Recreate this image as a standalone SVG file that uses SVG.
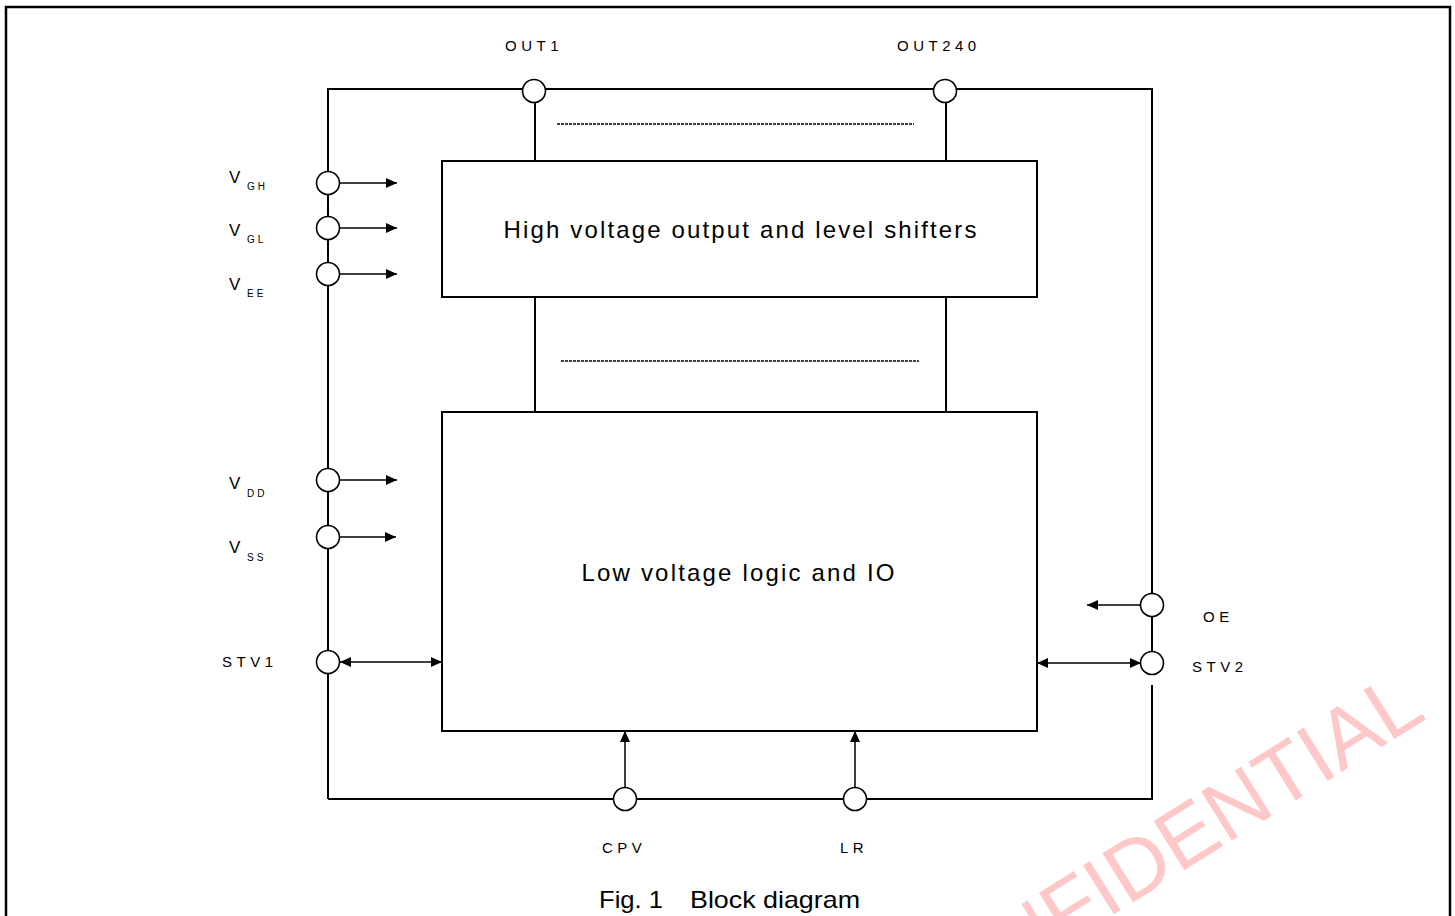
<svg xmlns="http://www.w3.org/2000/svg" width="1455" height="916" viewBox="0 0 1455 916">
<style>
.ln{stroke:#000;stroke-width:2;fill:none}
.thin{stroke:#000;stroke-width:1.5;fill:none}
.pin{fill:#fff;stroke:#000;stroke-width:1.6}
.box{fill:#fff;stroke:#000;stroke-width:2}
.lbl{font-family:"Liberation Sans",Arial,sans-serif;font-size:15px;letter-spacing:4.5px;fill:#000}
.v{font-family:"Liberation Sans",Arial,sans-serif;font-size:17px;fill:#000}
.sub{font-family:"Liberation Sans",Arial,sans-serif;font-size:10px;letter-spacing:3px;fill:#000}
.big{font-family:"Liberation Sans",Arial,sans-serif;font-size:24px;fill:#000}
.dash{stroke:#000;stroke-width:1.3;stroke-dasharray:3,1;fill:none}
</style>
<defs>
<marker id="ah" markerUnits="userSpaceOnUse" markerWidth="12" markerHeight="12" refX="11" refY="6" orient="auto-start-reverse" viewBox="0 0 12 12">
<path d="M0,1 L11,6 L0,11 Z" fill="#000"/>
</marker>
</defs>
<rect width="1455" height="916" fill="#fff"/>
<g id="watermark">
<text x="1428" y="718" transform="rotate(-32 1428 718)" text-anchor="end" font-family="'Liberation Sans',Arial,sans-serif" font-size="84" fill="#ffc8c8">CONFIDENTIAL</text>
</g>
<g id="frame">
<path d="M6,916 V7 H1450 V916" stroke="#000" stroke-width="2.5" fill="none"/>
</g>
<g id="connectors">
<path class="ln" d="M328,799 V89 H1152 V593"/>
<path class="ln" d="M1152,617 V652"/>
<path class="ln" d="M1152,685 V799 H328"/>
<line class="ln" x1="535" y1="103" x2="535" y2="161"/>
<line class="ln" x1="946" y1="103" x2="946" y2="161"/>
<line class="ln" x1="535" y1="297" x2="535" y2="412"/>
<line class="ln" x1="946" y1="297" x2="946" y2="412"/>
<line class="dash" x1="557" y1="124" x2="914" y2="124"/>
<line class="dash" x1="561" y1="361" x2="919" y2="361"/>
<line class="thin" x1="340" y1="183" x2="397" y2="183" marker-end="url(#ah)"/>
<line class="thin" x1="340" y1="228" x2="397" y2="228" marker-end="url(#ah)"/>
<line class="thin" x1="340" y1="274" x2="397" y2="274" marker-end="url(#ah)"/>
<line class="thin" x1="340" y1="480" x2="397" y2="480" marker-end="url(#ah)"/>
<line class="thin" x1="340" y1="537" x2="396" y2="537" marker-end="url(#ah)"/>
<line class="thin" x1="340" y1="662" x2="442" y2="662" marker-start="url(#ah)" marker-end="url(#ah)"/>
<line class="thin" x1="1037" y1="663" x2="1141" y2="663" marker-start="url(#ah)" marker-end="url(#ah)"/>
<line class="thin" x1="1141" y1="605" x2="1087" y2="605" marker-end="url(#ah)"/>
<line class="thin" x1="625" y1="788" x2="625" y2="731" marker-end="url(#ah)"/>
<line class="thin" x1="855" y1="788" x2="855" y2="731" marker-end="url(#ah)"/>
</g>
<g id="hv-block">
<rect class="box" x="442" y="161" width="595" height="136"/>
<text class="big" x="740" y="238" text-anchor="middle" textLength="473" lengthAdjust="spacing">High voltage output and level shifters</text>
</g>
<g id="lv-block">
<rect class="box" x="442" y="412" width="595" height="319"/>
<text class="big" x="738" y="581" text-anchor="middle" textLength="313" lengthAdjust="spacing">Low voltage logic and IO</text>
</g>
<g id="pin-out1"><circle class="pin" cx="534" cy="91" r="11.5"/><text class="lbl" x="505" y="51">OUT1</text></g>
<g id="pin-out240"><circle class="pin" cx="945" cy="91" r="11.5"/><text class="lbl" x="897" y="51">OUT240</text></g>
<g id="pin-vgh"><circle class="pin" cx="328" cy="183" r="11.5"/><text class="v" x="229" y="183">V</text><text class="sub" x="247" y="190">GH</text></g>
<g id="pin-vgl"><circle class="pin" cx="328" cy="228" r="11.5"/><text class="v" x="229" y="236">V</text><text class="sub" x="247" y="243">GL</text></g>
<g id="pin-vee"><circle class="pin" cx="328" cy="274" r="11.5"/><text class="v" x="229" y="290">V</text><text class="sub" x="247" y="297">EE</text></g>
<g id="pin-vdd"><circle class="pin" cx="328" cy="480" r="11.5"/><text class="v" x="229" y="489">V</text><text class="sub" x="247" y="497">DD</text></g>
<g id="pin-vss"><circle class="pin" cx="328" cy="537" r="11.5"/><text class="v" x="229" y="553">V</text><text class="sub" x="247" y="561">SS</text></g>
<g id="pin-stv1"><circle class="pin" cx="328" cy="662" r="11.5"/><text class="lbl" x="222" y="667">STV1</text></g>
<g id="pin-oe"><circle class="pin" cx="1152" cy="605" r="11.5"/><text class="lbl" x="1203" y="622">OE</text></g>
<g id="pin-stv2"><circle class="pin" cx="1152" cy="663" r="11.5"/><text class="lbl" x="1192" y="672">STV2</text></g>
<g id="pin-cpv"><circle class="pin" cx="625" cy="799" r="11.5"/><text class="lbl" x="602" y="853">CPV</text></g>
<g id="pin-lr"><circle class="pin" cx="855" cy="799" r="11.5"/><text class="lbl" x="840" y="853">LR</text></g>
<g id="caption">
<text class="big" y="908"><tspan x="599" textLength="64" lengthAdjust="spacingAndGlyphs">Fig. 1</tspan><tspan x="690" textLength="170" lengthAdjust="spacingAndGlyphs">Block diagram</tspan></text>
</g>
</svg>
